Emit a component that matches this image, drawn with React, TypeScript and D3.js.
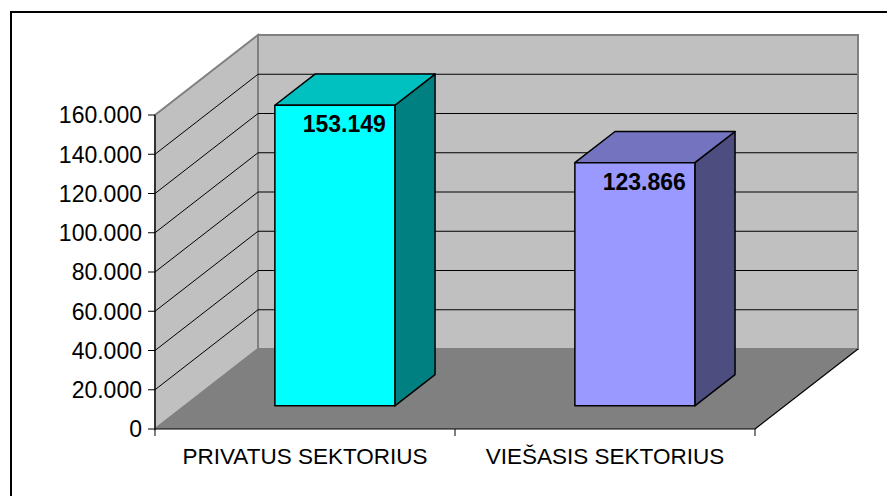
import React from "react";
import * as d3 from "d3";

const categories: string[] = ["PRIVATUS SEKTORIUS", "VIEŠASIS SEKTORIUS"];
const values: number[] = [153149, 123866];
const tickValues: number[] = [0, 20000, 40000, 60000, 80000, 100000, 120000, 140000, 160000];
const frontColors: string[] = ["#00ffff", "#9999ff"];
const topColors: string[] = ["#00c0c0", "#7373bf"];
const sideColors: string[] = ["#008080", "#4d4d80"];

const locale = d3.formatLocale({ decimal: ",", thousands: ".", grouping: [3], currency: ["", ""] });
const fmt = locale.format(",d");

export default function App() {
  const W = 887, H = 496;
  const x0 = 155, x1 = 755;
  const y = d3.scaleLinear().domain([0, 160000]).range([429, 115]);
  const xb = d3.scaleBand<string>().domain(categories).range([x0, x1]).paddingInner(0).paddingOuter(0);
  const DX = 103, DY = -80;
  const d1 = 0.29, d2 = 0.68;
  const barFrac = 0.4;
  const font = "'Liberation Sans', Arial, sans-serif";
  const yTop = y(160000), yZero = y(0);
  const pts = (a: [number, number][]) => a.map(p => p.join(",")).join(" ");

  return (
    <svg width={W} height={H} style={{ position: "absolute", left: 0, top: 0 }} fontFamily={font}>
      <rect x={0} y={0} width={W} height={H} fill="#fff" />
      <rect x={11} y={12} width={W + 20} height={H + 20} fill="none" stroke="#000" strokeWidth={2} />
      {/* back wall */}
      <polygon points={pts([[x0 + DX, yTop + DY], [x1 + DX, yTop + DY], [x1 + DX, yZero + DY], [x0 + DX, yZero + DY]])}
        fill="#c0c0c0" stroke="#808080" strokeWidth={2} />
      {/* side wall */}
      <polygon points={pts([[x0, yTop], [x0 + DX, yTop + DY], [x0 + DX, yZero + DY], [x0, yZero]])}
        fill="#c0c0c0" stroke="#808080" strokeWidth={2} />
      {/* floor */}
      <polygon points={pts([[x0, yZero], [x1, yZero], [x1 + DX, yZero + DY], [x0 + DX, yZero + DY]])}
        fill="#808080" />
      <line x1={x1} y1={yZero} x2={x1 + DX} y2={yZero + DY} stroke="#000" strokeWidth={1.2} />
      {/* gridlines */}
      {tickValues.filter(t => t > 0 && t < 160000).map(t => (
        <g key={t}>
          <line x1={x0} y1={y(t)} x2={x0 + DX} y2={y(t) + DY} stroke="#000" strokeWidth={1} />
          <line x1={x0 + DX} y1={y(t) + DY} x2={x1 + DX - 1} y2={y(t) + DY} stroke="#000" strokeWidth={1} />
        </g>
      ))}
      {/* bars */}
      {categories.map((c, i) => {
        const bw = xb.bandwidth();
        const fx = (xb(c) as number) + bw * (1 - barFrac) / 2 + d1 * DX;
        const w = bw * barFrac;
        const bot = yZero + d1 * DY;
        const top = y(values[i]) + d1 * DY;
        const ddx = (d2 - d1) * DX, ddy = (d2 - d1) * DY;
        return (
          <g key={c} stroke="#000" strokeWidth={1.5} strokeLinejoin="round">
            <polygon points={pts([[fx + w, top], [fx + w + ddx, top + ddy], [fx + w + ddx, bot + ddy], [fx + w, bot]])} fill={sideColors[i]} />
            <polygon points={pts([[fx, top], [fx + ddx, top + ddy], [fx + w + ddx, top + ddy], [fx + w, top]])} fill={topColors[i]} />
            <rect x={fx} y={top} width={w} height={bot - top} fill={frontColors[i]} />
            <text x={fx + w - 9} y={top + 27} textAnchor="end" fontWeight="bold" fontSize={23} stroke="none" fill="#000">
              {fmt(values[i])}
            </text>
          </g>
        );
      })}
      {/* axes */}
      <line x1={x0} y1={yTop} x2={x0} y2={yZero} stroke="#000" strokeWidth={1.2} />
      <line x1={x0} y1={yZero} x2={x1} y2={yZero} stroke="#000" strokeWidth={1.2} />
      {tickValues.map(t => (
        <g key={"t" + t}>
          <line x1={x0 - 7} y1={y(t)} x2={x0} y2={y(t)} stroke="#000" strokeWidth={1} />
          <text x={x0 - 13} y={y(t)} dy="0.36em" textAnchor="end" fontSize={23} fill="#000">{fmt(t)}</text>
        </g>
      ))}
      {[x0, ...categories.map(c => (xb(c) as number) + xb.bandwidth())].map((tx, i) => (
        <line key={"xt" + i} x1={tx} y1={yZero} x2={tx} y2={yZero + 7} stroke="#000" strokeWidth={1} />
      ))}
      {categories.map(c => (
        <text key={"c" + c} x={(xb(c) as number) + xb.bandwidth() / 2} y={464} textAnchor="middle" fontSize={22.5} fill="#000">{c}</text>
      ))}
    </svg>
  );
}
